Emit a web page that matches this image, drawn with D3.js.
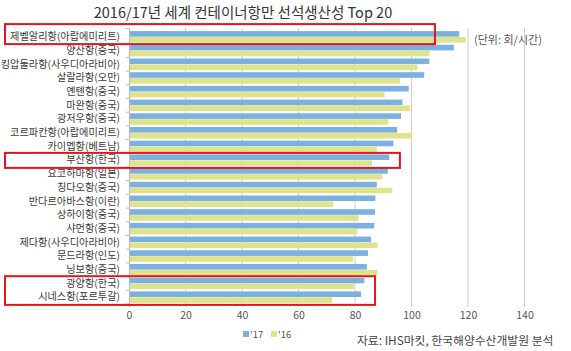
<!DOCTYPE html>
<html>
<head>
<meta charset="utf-8">
<script src="https://cdn.jsdelivr.net/npm/d3@7"></script>
<style>
  body { margin: 0; background: #fff; }
  #chart { width: 571px; height: 351px; }
  text { font-family: "Noto Sans CJK KR", "Noto Sans", sans-serif; }
</style>
</head>
<body>
<div id="chart"></div>
<script>

var ports = ["제벨알리항(아랍에미리트)", "양산항(중국)", "킹압둘라항(사우디아라비아)", "살랄라항(오만)",
    "옌톈항(중국)", "마완항(중국)", "광저우항(중국)", "코르파칸항(아랍에미리트)", "카이멥항(베트남)",
    "부산항(한국)", "요코하마항(일본)", "칭다오항(중국)", "반다르아바스항(이란)", "상하이항(중국)",
    "샤먼항(중국)", "제다항(사우디아라비아)", "문드라항(인도)", "닝보항(중국)", "광양항(한국)", "시네스항(포르투갈)"];

var v17 = [116.9, 115.0, 106.3, 104.5, 99.0, 96.8, 96.3, 94.9, 93.6, 92.1,
    91.6, 87.7, 87.2, 87.1, 86.8, 85.7, 84.6, 84.2, 83.3, 82.1];
var v16 = [119.2, 106.4, 102.1, 95.9, 90.5, 99.5, 91.8, 100.2, 87.7, 86.0,
    89.7, 93.2, 72.3, 81.3, 80.8, 88.0, 79.3, 88.0, 79.6, 71.9];

var xTicks = [0, 20, 40, 60, 80, 100, 120, 140];
var seriesNames = ["'17", "'16"];
var colors = ["#7ab1df", "#dfe48c"];

// highlighted rows: [first row, last row, right edge value]
var highlights = [[0, 0, 108.3], [9, 9, 95.9], [18, 19, 87.1]];

var width = 571, height = 351;
var svg = d3.select("#chart").append("svg")
    .attr("width", width)
    .attr("height", height);

var x = d3.scaleLinear().domain([0, 140]).range([129, 524.5]);
var y = d3.scaleBand().domain(ports).range([30, 304]).paddingInner(0.16).paddingOuter(0.08);
var ySub = d3.scaleBand().domain([0, 1]).range([0, y.bandwidth()]).paddingInner(0.05);

var data = ports.map(function(p, i) { return { port: p, vals: [v17[i], v16[i]] }; });

// title
svg.append("text")
    .attr("x", 243).attr("y", 18)
    .attr("text-anchor", "middle")
    .attr("font-size", 14.5)
    .attr("fill", "#333")
    .text("2016/17년 세계 컨테이너항만 선석생산성 Top 20");

// grid
svg.selectAll(".grid")
    .data(xTicks.slice(1))
    .enter().append("line")
    .attr("x1", function(d) { return x(d); })
    .attr("x2", function(d) { return x(d); })
    .attr("y1", 28).attr("y2", 307)
    .attr("stroke", "#cfcfcf")
    .attr("stroke-width", 1);

// bars
var rows = svg.selectAll(".row")
    .data(data)
    .enter().append("g")
    .attr("transform", function(d) { return "translate(0," + y(d.port) + ")"; });

rows.selectAll("rect")
    .data(function(d) { return d.vals; })
    .enter().append("rect")
    .attr("x", x(0))
    .attr("y", function(d, i) { return ySub(i); })
    .attr("width", function(d) { return x(d) - x(0); })
    .attr("height", ySub.bandwidth())
    .attr("fill", function(d, i) { return colors[i]; });

// y axis
var yAxis = svg.append("g")
    .attr("transform", "translate(" + x(0) + ",0)")
    .call(d3.axisLeft(y).tickSize(3).tickPadding(6));
yAxis.select(".domain").attr("stroke", "#bbb").attr("d", "M-3,28.5H0.5V307");
yAxis.selectAll(".tick line").attr("stroke", "#bbb")
    .attr("transform", "translate(0," + (y.step() / 2) + ")");
yAxis.selectAll(".tick text")
    .attr("font-size", 10.2)
    .attr("fill", "#3a3a3a")
    .attr("font-family", "'Noto Sans CJK KR', sans-serif");

// x axis
var xAxis = svg.append("g")
    .attr("transform", "translate(0,306)")
    .call(d3.axisBottom(x).tickValues(xTicks).tickSize(0).tickPadding(6));
xAxis.select(".domain").remove();
xAxis.selectAll(".tick text")
    .attr("font-size", 10.5)
    .attr("fill", "#555")
    .attr("font-family", "'Noto Sans CJK KR', sans-serif");

// unit label
svg.append("text")
    .attr("x", 474).attr("y", 44)
    .attr("font-size", 11)
    .attr("fill", "#555")
    .text("(단위: 회/시간)");

// highlight boxes
svg.selectAll(".hl")
    .data(highlights)
    .enter().append("rect")
    .attr("x", 5)
    .attr("y", function(d, i) { return y(ports[d[0]]) - (i == 0 ? 7 : 1.5); })
    .attr("width", function(d) { return x(d[2]) - 5; })
    .attr("height", function(d, i) {
        return y(ports[d[1]]) + y.bandwidth() - y(ports[d[0]]) + (i == 0 ? 8.5 : 3.5);
    })
    .attr("fill", "none")
    .attr("stroke", "#e8141b")
    .attr("stroke-width", 2);

// legend
var legend = svg.append("g").attr("transform", "translate(243,331)");
seriesNames.forEach(function(s, i) {
    legend.append("rect")
        .attr("x", i * 28).attr("y", 0)
        .attr("width", 6).attr("height", 6)
        .attr("fill", colors[i]);
    legend.append("text")
        .attr("x", i * 28 + 7).attr("y", 7)
        .attr("font-size", 9.5)
        .attr("fill", "#555")
        .text(s);
});

// source
svg.append("text")
    .attr("x", 357).attr("y", 345)
    .attr("font-size", 11.8)
    .attr("fill", "#444")
    .text("자료: IHS마킷, 한국해양수산개발원 분석");

</script>
</body>
</html>
